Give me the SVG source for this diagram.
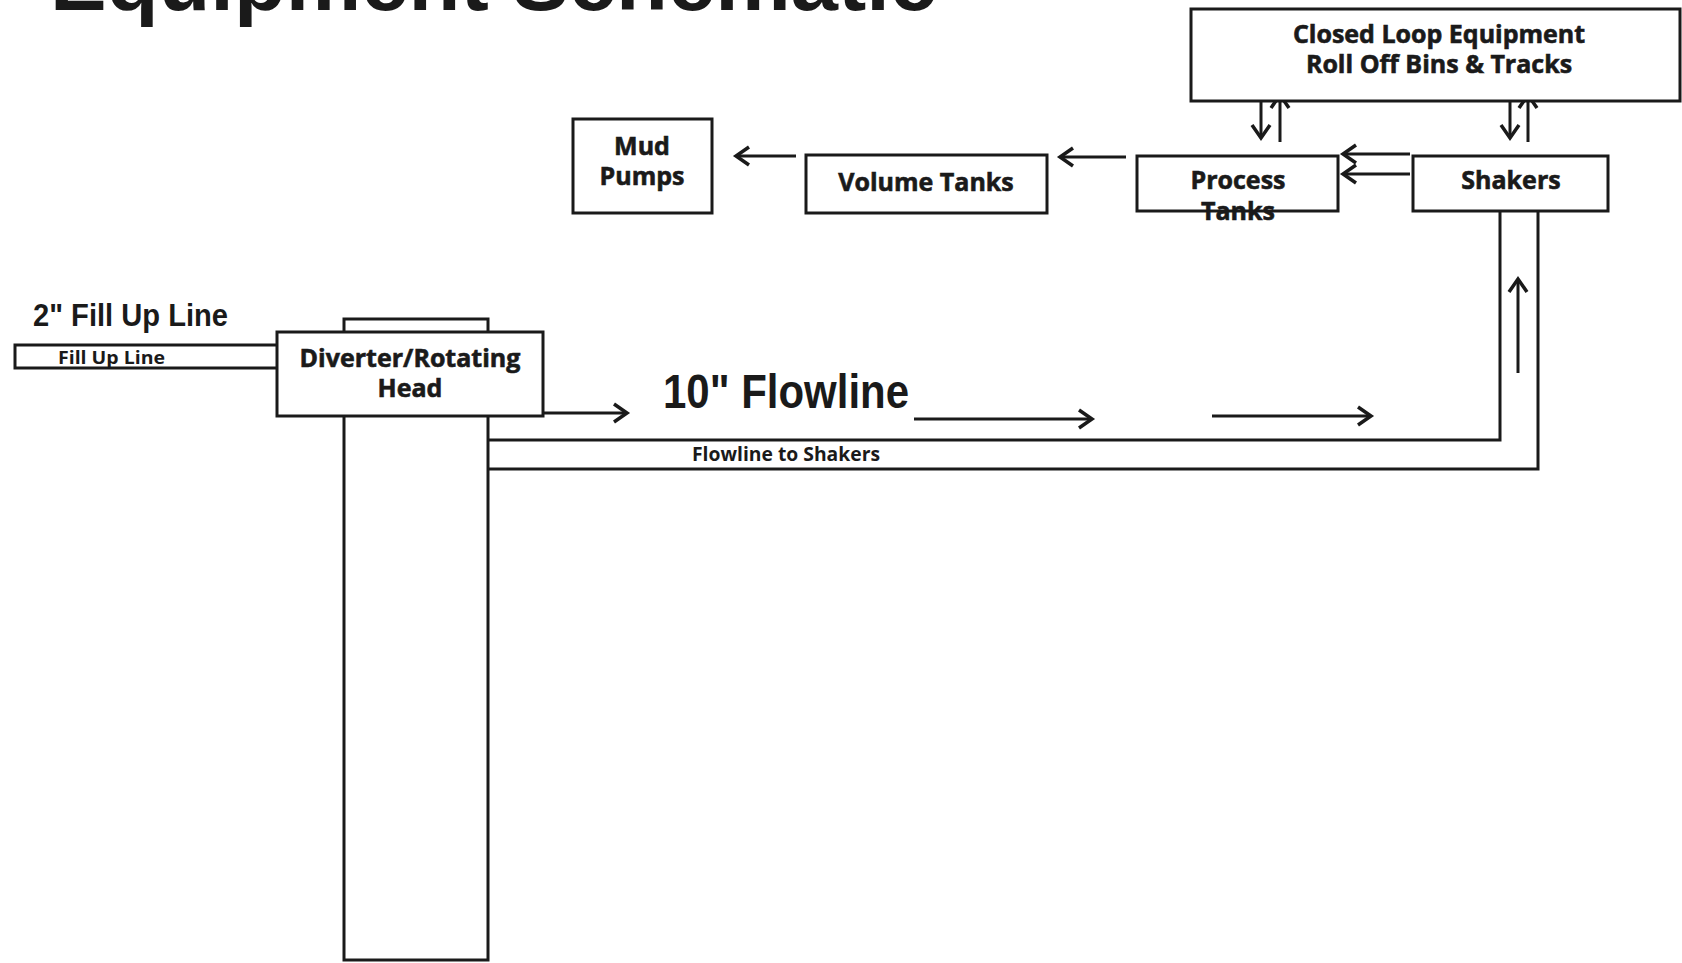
<svg xmlns="http://www.w3.org/2000/svg" width="1682" height="963" viewBox="0 0 1682 963">
<style>
.box{fill:#fff;stroke:#1a1a1a;stroke-width:3}
.ln{fill:none;stroke:#1a1a1a;stroke-width:3}
.lbl{font-family:"Open Sans","Noto Sans",sans-serif;font-weight:700;font-size:25px;fill:#1a1a1a;stroke:#1a1a1a;stroke-width:0.6px;text-anchor:middle}
.cond{font-family:"Liberation Sans",Arial,sans-serif;font-weight:700;fill:#1a1a1a}
</style>
<defs>
<marker id="arr" markerUnits="userSpaceOnUse" markerWidth="20" markerHeight="20" refX="14" refY="9" orient="auto" overflow="visible">
<path d="M1,0 L14,9 L1,18" fill="none" stroke="#1a1a1a" stroke-width="3.5"/>
</marker>
</defs>
<rect width="1682" height="963" fill="#fff"/>
<text x="50" y="10" font-size="84" textLength="887" lengthAdjust="spacingAndGlyphs" class="cond">Equipment Schematic</text>

<g id="wellbore">
<rect class="box" x="344" y="319" width="144" height="641"/>
</g>
<g id="fill-up-line">
<polyline class="ln" points="277,345 15,345 15,368 277,368"/>
<text x="58" y="364" font-size="17" textLength="107" lengthAdjust="spacingAndGlyphs" font-family="Open Sans,sans-serif" font-weight="700" fill="#1a1a1a">Fill Up Line</text>
</g>
<text x="33" y="326" font-size="32" textLength="195" lengthAdjust="spacingAndGlyphs" class="cond">2" Fill Up Line</text>

<g id="connectors">
<polyline class="ln" points="488,440 1500,440 1500,212"/>
<polyline class="ln" points="488,469 1538,469 1538,212"/>
<line class="ln" x1="796" y1="156" x2="736" y2="156" marker-end="url(#arr)"/>
<line class="ln" x1="1126" y1="157" x2="1060" y2="157" marker-end="url(#arr)"/>
<line class="ln" x1="1410" y1="154" x2="1343" y2="154" marker-end="url(#arr)"/>
<line class="ln" x1="1410" y1="174" x2="1343" y2="174" marker-end="url(#arr)"/>
<line class="ln" x1="1261" y1="93" x2="1261" y2="138" marker-end="url(#arr)"/>
<line class="ln" x1="1280" y1="142" x2="1280" y2="95" marker-end="url(#arr)"/>
<line class="ln" x1="1510" y1="93" x2="1510" y2="138" marker-end="url(#arr)"/>
<line class="ln" x1="1528" y1="142" x2="1528" y2="95" marker-end="url(#arr)"/>
<line class="ln" x1="543" y1="413" x2="627" y2="413" marker-end="url(#arr)"/>
<line class="ln" x1="914" y1="419" x2="1092" y2="419" marker-end="url(#arr)"/>
<line class="ln" x1="1212" y1="416" x2="1371" y2="416" marker-end="url(#arr)"/>
<line class="ln" x1="1518" y1="373" x2="1518" y2="279" marker-end="url(#arr)"/>
</g>

<g id="diverter">
<rect class="box" x="277" y="332" width="266" height="84"/>
<text class="lbl" x="410" y="367" font-size="23">Diverter/Rotating</text>
<text class="lbl" x="410" y="397" font-size="23">Head</text>
</g>

<g id="closed-loop">
<rect class="box" x="1191" y="9" width="489" height="92"/>
<text class="lbl" x="1439" y="43" font-size="26">Closed Loop Equipment</text>
<text class="lbl" x="1439" y="73" font-size="26">Roll Off Bins &amp; Tracks</text>
</g>
<g id="mud-pumps">
<rect class="box" x="573" y="119" width="139" height="94"/>
<text class="lbl" x="642" y="155">Mud</text>
<text class="lbl" x="642" y="185">Pumps</text>
</g>
<g id="volume-tanks">
<rect class="box" x="806" y="155" width="241" height="58"/>
<text class="lbl" x="926" y="191">Volume Tanks</text>
</g>
<g id="process-tanks">
<rect class="box" x="1137" y="156" width="201" height="55"/>
<text class="lbl" x="1238" y="189">Process</text>
<text class="lbl" x="1238" y="220">Tanks</text>
</g>
<g id="shakers">
<rect class="box" x="1413" y="156" width="195" height="55"/>
<text class="lbl" x="1511" y="189">Shakers</text>
</g>

<text x="663" y="408" font-size="48" textLength="246" lengthAdjust="spacingAndGlyphs" class="cond">10" Flowline</text>
<text x="692" y="461" font-size="19" textLength="188" lengthAdjust="spacingAndGlyphs" font-family="Open Sans,sans-serif" font-weight="700" fill="#1a1a1a">Flowline to Shakers</text>
</svg>
